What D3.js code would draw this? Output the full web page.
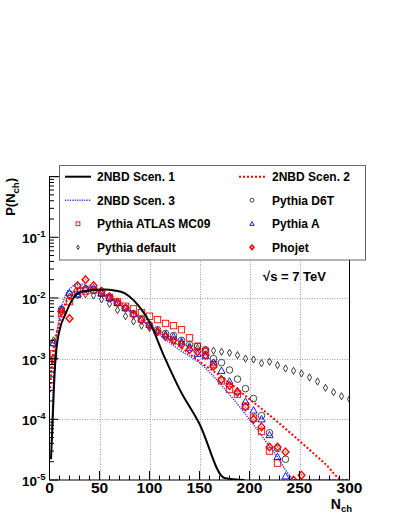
<!DOCTYPE html>
<html lang="en">
<head>
<title>Charged multiplicity</title>
<meta charset="utf-8">
<script src="https://d3js.org/d3.v7.min.js"></script>
<style>
  body { margin: 0; background: #fff; }
  text { font-family: "Liberation Sans", Arial, Helvetica, sans-serif; font-weight: bold; fill: #000; }
</style>
</head>
<body>
<div id="chart"></div>
<script type="text/javascript">
	// 2NBD curves (N, P)
	var scen1N = [1.5, 3.2, 4.5, 6, 8.5, 11, 15.5, 20.5, 25.5, 30, 35, 45, 55, 65, 75, 84, 94, 100, 115, 130, 150, 175, 195];
	var scen1P = [2.2e-5, 1e-4, 3.5e-4, 1e-3, 2.2e-3, 3.4e-3, 5.2e-3, 8e-3, 1.08e-2, 1.22e-2, 1.3e-2, 1.36e-2, 1.38e-2, 1.33e-2, 1.2e-2, 9.2e-3, 5.8e-3, 4e-3, 1.06e-3, 3.15e-4, 8.4e-5, 1.08e-5, 3e-6];

	var scen2N = [0.5, 1.5, 3, 5, 7, 9, 12, 15, 20, 25, 30, 35, 40, 50, 60, 70, 80, 90, 100, 110, 120, 130, 140, 150, 175, 200, 225, 250, 275, 294, 300];
	var scen2P = [2.8e-4, 5.5e-4, 1e-3, 1.8e-3, 2.6e-3, 3.5e-3, 5.3e-3, 7.5e-3, 1.05e-2, 1.3e-2, 1.45e-2, 1.5e-2, 1.46e-2, 1.28e-2, 1.05e-2, 8.2e-3, 6.3e-3, 4.8e-3, 3.5e-3, 2.7e-3, 2.05e-3, 1.6e-3, 1.2e-3, 9e-4, 4.6e-4, 2.15e-4, 1e-4, 4.4e-5, 1.9e-5, 1e-5, 8.5e-6];

	var scen3N = [2, 3, 4.5, 6, 8, 10, 13, 17, 22, 28, 33, 40, 50, 60, 70, 80, 90, 100, 110, 120, 130, 140, 150, 175, 200, 225, 247, 300];
	var scen3P = [4e-5, 1.5e-4, 6e-4, 1.5e-3, 3e-3, 5e-3, 8e-3, 1.2e-2, 1.5e-2, 1.68e-2, 1.68e-2, 1.55e-2, 1.25e-2, 1e-2, 7.8e-3, 6e-3, 4.6e-3, 3.4e-3, 2.5e-3, 1.85e-3, 1.4e-3, 1.1e-3, 8.5e-4, 3.2e-4, 1e-4, 2.8e-5, 1e-5, 5e-6];

	// MC points, bin centres
	var bins = [4, 12, 20, 28, 36, 44, 52, 60, 68, 76, 84, 92, 100, 108, 116, 124, 132, 140, 148, 156,
	            164, 172, 180, 188, 196, 204, 212, 220, 228, 236, 244, 252, 260, 268, 276, 284, 292, 300];
	var d6t = [1.8e-3, 6.5e-3, 1.15e-2, 1.3e-2, 1.4e-2, 1.35e-2, 1.2e-2, 9.8e-3, 8.2e-3, 6.8e-3,
	           5.5e-3, 4.5e-3, 3.6e-3, 3.0e-3, 2.6e-3, 2.4e-3, 2.0e-3, 1.7e-3, 1.6e-3, 1.4e-3,
	           1.0e-3, 8.6e-4, 6.5e-4, 4.6e-4, 3.2e-4, 2.2e-4, 1.15e-4, 6.0e-5, 3.3e-5, 2.2e-5];
	var pythiaA = [1.8e-3, 6.6e-3, 1.2e-2, 1.15e-2, 1.4e-2, 1.45e-2, 1.2e-2, 1.0e-2, 8.3e-3, 6.8e-3,
	               5.5e-3, 4.4e-3, 3.6e-3, 2.9e-3, 2.5e-3, 2.3e-3, 1.9e-3, 1.5e-3, 1.2e-3, 1.1e-3,
	               8.6e-4, 6.3e-4, 4.2e-4, 2.9e-4, 1.95e-4, 1.4e-4, 1.0e-4, 5.5e-5, 2.4e-5, 1.15e-5];
	var mc09 = [1.2e-3, 5.5e-3, 8.7e-3, 1.15e-2, 1.3e-2, 1.35e-2, 1.2e-2, 1.02e-2, 8.6e-3, 7.3e-3,
	            6.6e-3, 5.7e-3, 5.0e-3, 4.4e-3, 3.8e-3, 3.5e-3, 3.0e-3, 2.2e-3, 1.6e-3, 1.3e-3,
	            8e-4, 4.3e-4, 3.1e-4, 2.6e-4, 1.65e-4, 1.05e-4, 6.3e-5, 3.0e-5, 1.9e-5];
	var pdefault = [2.0e-3, 6.0e-3, 1.05e-2, 1.1e-2, 1.15e-2, 1.1e-2, 9.5e-3, 8.0e-3, 6.3e-3, 5.0e-3,
	                4.1e-3, 3.5e-3, 3.2e-3, 2.7e-3, 2.3e-3, 2.0e-3, 1.8e-3, 1.6e-3, 1.5e-3, 1.39e-3,
	                1.35e-3, 1.3e-3, 1.25e-3, 1.14e-3, 1.0e-3, 9.7e-4, 8.4e-4, 8.9e-4, 7.8e-4, 6.9e-4,
	                6.3e-4, 5.7e-4, 4.9e-4, 4.2e-4, 3.3e-4, 2.8e-4, 2.4e-4, 2.15e-4];
	var phojet = [1.0e-3, 6.0e-3, 4.6e-3, 1.6e-2, 2.0e-2, 1.6e-2, 1.3e-2, 1.05e-2, 8.5e-3, 6.8e-3,
	              5.3e-3, 4.3e-3, 3.5e-3, 2.8e-3, 2.3e-3, 2.0e-3, 1.7e-3, 1.4e-3, 1.3e-3, 1.14e-3,
	              7.5e-4, 4.5e-4, 3.6e-4, 2.8e-4, 1.6e-4, 1.0e-4, 7.5e-5, 3.5e-5, 3.5e-5, 2.9e-5,
	              1.0e-5, 1.2e-5];

	var xTicks = [0, 50, 100, 150, 200, 250, 300];
	var yExps = [-5, -4, -3, -2, -1];

	var W = 399, H = 516;
	var svg = d3.select("#chart").append("svg").attr("width", W).attr("height", H);

	var x = d3.scaleLinear().domain([0, 300]).range([49.5, 349.5]);
	var y = d3.scaleLog().domain([1e-5, 1]).range([480, 176.6]);
	var x0 = x(0), x1 = x(300), yb = y(1e-5), yt = y(1);

	svg.append("clipPath").attr("id", "plotclip")
		.append("rect").attr("x", x0).attr("y", yt).attr("width", x1 - x0).attr("height", yb - yt);

	// grid
	var grid = svg.append("g").attr("stroke", "#9a9a9a").attr("stroke-width", 1).attr("stroke-dasharray", "1,1.5");
	grid.selectAll(".gx").data(xTicks.slice(1, -1)).enter().append("line")
		.attr("x1", function(d){ return Math.round(x(d)) + 0.5; }).attr("x2", function(d){ return Math.round(x(d)) + 0.5; })
		.attr("y1", yt).attr("y2", yb);
	grid.selectAll(".gy").data(yExps.slice(1)).enter().append("line")
		.attr("x1", x0).attr("x2", x1)
		.attr("y1", function(d){ return Math.round(y(Math.pow(10, d))) + 0.5; })
		.attr("y2", function(d){ return Math.round(y(Math.pow(10, d))) + 0.5; });

	var plot = svg.append("g").attr("clip-path", "url(#plotclip)");

	function marker(g, type, cx, cy, s){
		var p;
		if (type == "circle"){
			g.append("circle").attr("cx", cx).attr("cy", cy).attr("r", 3.3 * s)
				.attr("fill", "none").attr("stroke", "#333").attr("stroke-width", 0.9);
		} else if (type == "triangle"){
			p = [[cx, cy - 3.8 * s], [cx + 3.6 * s, cy + 2.6 * s], [cx - 3.6 * s, cy + 2.6 * s]];
			g.append("polygon").attr("points", p.join(" "))
				.attr("fill", "none").attr("stroke", "#0000ff").attr("stroke-width", 0.9);
		} else if (type == "square"){
			g.append("rect").attr("x", cx - 3.2 * s).attr("y", cy - 3.2 * s)
				.attr("width", 6.4 * s).attr("height", 6.4 * s)
				.attr("fill", "none").attr("stroke", "#ff0000").attr("stroke-width", 0.9);
		} else if (type == "thin"){
			p = [[cx, cy - 3.6 * s], [cx + 2.1 * s, cy], [cx, cy + 3.6 * s], [cx - 2.1 * s, cy]];
			g.append("polygon").attr("points", p.join(" "))
				.attr("fill", "none").attr("stroke", "#222").attr("stroke-width", 0.9);
		} else if (type == "phojet"){
			p = [[cx, cy - 3.8 * s], [cx + 3.4 * s, cy], [cx, cy + 3.8 * s], [cx - 3.4 * s, cy]];
			g.append("polygon").attr("points", p.join(" "))
				.attr("fill", "none").attr("stroke", "#ff0000").attr("stroke-width", 1.4);
			g.append("circle").attr("cx", cx).attr("cy", cy).attr("r", 0.9 * s).attr("fill", "#ff6666");
		}
	}

	var mcSeries = [
		{vals: pdefault, type: "thin"},
		{vals: mc09, type: "square"},
		{vals: d6t, type: "circle"},
		{vals: pythiaA, type: "triangle"},
		{vals: phojet, type: "phojet"}
	];
	mcSeries.forEach(function(s){
		var g = plot.append("g");
		for (var i = 0; i < s.vals.length; i++){
			marker(g, s.type, x(bins[i]), y(s.vals[i]), 1);
		}
	});

	// curves, values below the minimum drawn on the bottom line
	function drawCurve(ns, ps, color, w, dash){
		var pts = ns.map(function(n, i){ return [n, Math.max(ps[i], 1e-5)]; });
		plot.append("path").datum(pts)
			.attr("fill", "none").attr("stroke", color).attr("stroke-width", w)
			.attr("stroke-dasharray", dash)
			.attr("d", d3.line().curve(d3.curveMonotoneX)
				.x(function(d){ return x(d[0]); })
				.y(function(d){ return y(d[1]); }));
	}
	drawCurve(scen3N, scen3P, "#3333ff", 1.5, "1.2,1.2");
	drawCurve(scen2N, scen2P, "#ff0000", 2, "2,2");
	drawCurve(scen1N, scen1P, "#000", 2, null);

	// frame
	svg.append("rect").attr("x", x0).attr("y", yt).attr("width", x1 - x0).attr("height", yb - yt)
		.attr("fill", "none").attr("stroke", "#000").attr("stroke-width", 1);

	// ticks
	var xMinor = [];
	for (var v = 10; v < 300; v += 10) if (v % 50 != 0) xMinor.push(v);
	var ticks = svg.append("g").attr("stroke", "#000").attr("stroke-width", 1);
	ticks.selectAll(".xt").data(xTicks).enter().append("line")
		.attr("x1", function(d){ return x(d); }).attr("x2", function(d){ return x(d); })
		.attr("y1", yb).attr("y2", yb - 9);
	ticks.selectAll(".xm").data(xMinor).enter().append("line")
		.attr("x1", function(d){ return x(d); }).attr("x2", function(d){ return x(d); })
		.attr("y1", yb).attr("y2", yb - 4.5);
	var yMinor = [];
	yExps.forEach(function(e){ for (var k = 2; k < 10; k++) yMinor.push(k * Math.pow(10, e)); });
	ticks.selectAll(".yt").data(yExps.concat([0])).enter().append("line")
		.attr("x1", x0).attr("x2", x0 + 9)
		.attr("y1", function(d){ return y(Math.pow(10, d)); }).attr("y2", function(d){ return y(Math.pow(10, d)); });
	ticks.selectAll(".ym").data(yMinor).enter().append("line")
		.attr("x1", x0).attr("x2", x0 + 4.5)
		.attr("y1", function(d){ return y(d); }).attr("y2", function(d){ return y(d); });

	// tick labels
	svg.selectAll(".xl").data(xTicks).enter().append("text")
		.attr("x", function(d){ return x(d); }).attr("y", 493)
		.attr("text-anchor", "middle").style("font-size", "15.5px")
		.text(function(d){ return d; });
	var yl = svg.selectAll(".yl").data(yExps).enter().append("text")
		.attr("x", 45.5).attr("y", function(d){ return y(Math.pow(10, d)) + 6; })
		.attr("text-anchor", "end").style("font-size", "13.5px");
	yl.append("tspan").text("10");
	yl.append("tspan").attr("dy", -6).style("font-size", "9.5px").text(function(d){ return d; });

	// axis titles
	var xt = svg.append("text").attr("x", 352).attr("y", 508.5).attr("text-anchor", "end").style("font-size", "14px");
	xt.append("tspan").text("N");
	xt.append("tspan").attr("dy", 3).style("font-size", "9.5px").text("ch");

	var ytl = svg.append("text").attr("transform", "translate(15,178) rotate(-90)")
		.attr("text-anchor", "end").style("font-size", "13px");
	ytl.append("tspan").text("P(N");
	ytl.append("tspan").attr("dy", 3.5).style("font-size", "9.5px").text("ch");
	ytl.append("tspan").attr("dy", -3.5).text(")");

	svg.append("text").attr("x", 263).attr("y", 280.5).style("font-size", "13px").text("\u221As = 7 TeV");

	// legend
	var leg = svg.append("g");
	leg.append("rect").attr("x", 59.5).attr("y", 165.5).attr("width", 306).attr("height", 94.5)
		.attr("fill", "#fff").attr("stroke", "#666").attr("stroke-width", 1);
	var legRows = [176.7, 200.2, 223.8, 247.3];
	var legItems = [
		{col: 0, row: 0, label: "2NBD Scen. 1", line: ["#000", 2, null]},
		{col: 1, row: 0, label: "2NBD Scen. 2", line: ["#ff0000", 2, "2,2"]},
		{col: 0, row: 1, label: "2NBD Scen. 3", line: ["#3333ff", 1.5, "1.2,1.2"]},
		{col: 1, row: 1, label: "Pythia D6T", mark: "circle"},
		{col: 0, row: 2, label: "Pythia ATLAS MC09", mark: "square"},
		{col: 1, row: 2, label: "Pythia A", mark: "triangle"},
		{col: 0, row: 3, label: "Pythia default", mark: "thin"},
		{col: 1, row: 3, label: "Phojet", mark: "phojet"}
	];
	var colSym = [[65, 91], [239, 265]], colText = [97, 272];
	legItems.forEach(function(it){
		var cy = legRows[it.row], s = colSym[it.col];
		if (it.line){
			leg.append("line").attr("x1", s[0]).attr("x2", s[1]).attr("y1", cy).attr("y2", cy)
				.attr("stroke", it.line[0]).attr("stroke-width", it.line[1]).attr("stroke-dasharray", it.line[2]);
		} else {
			marker(leg, it.mark, (s[0] + s[1]) / 2, cy, 0.6);
		}
		leg.append("text").attr("x", colText[it.col]).attr("y", cy + 4.4)
			.style("font-size", "12px").text(it.label);
	});
</script>
</body>
</html>
